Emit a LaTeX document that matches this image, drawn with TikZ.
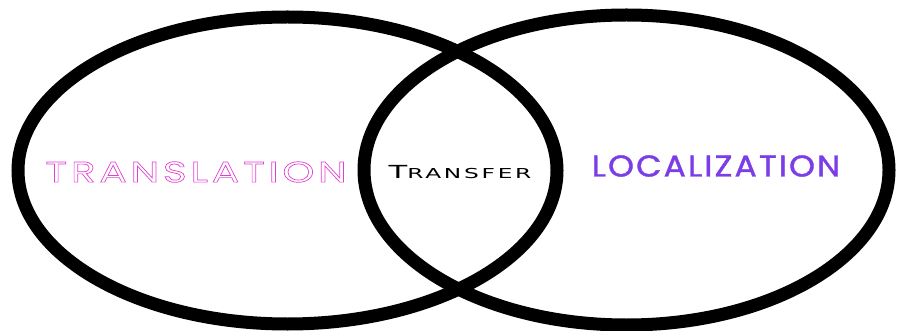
\documentclass[tikz,border=0pt]{standalone}
\usepackage{fontspec}
\usepackage{tikz}
\usetikzlibrary{shapes.geometric}
\setmainfont{Poppins}
\newfontfamily\thinfont[FakeStretch=1.4,LetterSpace=13]{Poppins}
\newfontfamily\widefont[FakeStretch=1.1,LetterSpace=7,FakeBold=1.2]{Poppins}
\newfontfamily\capsfont[FakeStretch=1.7,LetterSpace=20]{DejaVu Sans}
\definecolor{pinkish}{HTML}{E23FD2}
\definecolor{cyanish}{HTML}{3FDDE0}
\definecolor{violetish}{HTML}{7A3DE6}
% outlined letters (stroke only)
\newcommand{\hollow}[1]{\special{pdf:code 1 Tr 0.7 w}#1\special{pdf:code 0 Tr}}

\begin{document}
\begin{tikzpicture}[x=1pt,y=-1pt]
    \tikzset{Ring/.style={ellipse, draw=black, line width=13pt, inner sep=0pt}}
    \useasboundingbox (0,0) rectangle (899,331);
    \clip (0,0) rectangle (899,331);
    \node[Ring, minimum width=539pt, minimum height=307pt] (Trans) at (287.5,170.5) {};
    \node[Ring, minimum width=525pt, minimum height=310pt] (Local) at (626.5,170) {};
    \node[pinkish] (TransLabel) at (196,172)
        {\fontsize{29}{29}\thinfont\hollow{TRANSLATION}};
    \node (Transfer) at (460,172)
        {\capsfont{\fontsize{18}{18}\selectfont T}{\fontsize{13.7}{14}\selectfont RANSFER}};
    \node[violetish] (LocalLabel) at (716,166)
        {\fontsize{30}{30}\widefont LOCALIZATION};
\end{tikzpicture}
\end{document}
